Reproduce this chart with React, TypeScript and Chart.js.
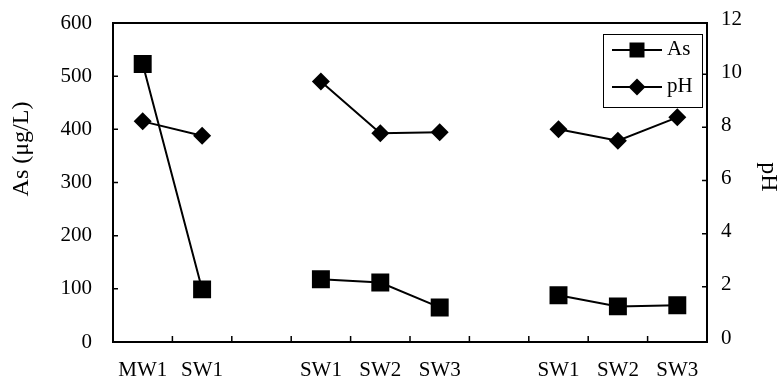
import React, { useEffect, useRef } from 'react';
import { Chart, registerables } from 'chart.js';

Chart.register(...registerables);

const categories = ['MW1', 'SW1', '', 'SW1', 'SW2', 'SW3', '', 'SW1', 'SW2', 'SW3'];
const asValues: (number | null)[] = [523, 99, null, 118, 112, 65, null, 88, 67, 69];
const phValues: (number | null)[] = [8.3, 7.76, null, 9.8, 7.85, 7.89, null, 8.0, 7.57, 8.45];
const asTicks = [0, 100, 200, 300, 400, 500, 600];
const phTicks = [0, 2, 4, 6, 8, 10, 12];
const leftTitle = 'As (μg/L)';
const rightTitle = 'pH';
const legendLabels = ['As', 'pH'];

const FONT = '"Liberation Serif", "Times New Roman", serif';

const decorPlugin = {
  id: 'decor',
  beforeDatasetsDraw(chart: any) {
    const { ctx, chartArea } = chart;
    const { left, right, top, bottom } = chartArea;
    const x = chart.scales.x;
    const y = chart.scales.y;
    const y1 = chart.scales.y1;
    ctx.save();
    ctx.strokeStyle = '#000';
    ctx.lineWidth = 2;
    ctx.strokeRect(left, top, right - left, bottom - top);
    ctx.lineWidth = 1.5;
    ctx.beginPath();
    for (let i = 1; i < categories.length; i++) {
      const px = (x.getPixelForValue(i - 1) + x.getPixelForValue(i)) / 2;
      ctx.moveTo(px, bottom);
      ctx.lineTo(px, bottom - 6);
    }
    asTicks.slice(1, -1).forEach((v) => {
      const py = y.getPixelForValue(v);
      ctx.moveTo(left, py);
      ctx.lineTo(left + 5, py);
    });
    phTicks.slice(1, -1).forEach((v) => {
      const py = y1.getPixelForValue(v) - 2;
      ctx.moveTo(right, py);
      ctx.lineTo(right - 5, py);
    });
    ctx.stroke();
    ctx.restore();
  },
  afterDraw(chart: any) {
    const { ctx } = chart;
    ctx.save();
    ctx.fillStyle = '#000';
    ctx.strokeStyle = '#000';
    // axis titles
    ctx.font = `24px ${FONT}`;
    ctx.textAlign = 'center';
    ctx.textBaseline = 'middle';
    ctx.save();
    ctx.translate(22, 149);
    ctx.rotate(-Math.PI / 2);
    ctx.fillText(leftTitle, 0, 0);
    ctx.restore();
    ctx.save();
    ctx.translate(768, 177);
    ctx.rotate(Math.PI / 2);
    ctx.font = `24px ${FONT}`;
    ctx.fillText(rightTitle, 0, 0);
    ctx.restore();
    // legend
    const bx = 603.5, by = 34.5, bw = 99, bh = 73;
    ctx.fillStyle = '#fff';
    ctx.fillRect(bx, by, bw, bh);
    ctx.fillStyle = '#000';
    ctx.lineWidth = 1;
    ctx.strokeRect(bx, by, bw, bh);
    const rows = [50, 87];
    ctx.lineWidth = 1.8;
    rows.forEach((ry, i) => {
      ctx.beginPath();
      ctx.moveTo(612, ry);
      ctx.lineTo(662, ry);
      ctx.stroke();
      ctx.beginPath();
      if (i === 0) {
        ctx.rect(637 - 7.5, ry - 7.5, 15, 15);
      } else {
        ctx.moveTo(637 - 8.5, ry);
        ctx.lineTo(637, ry - 8.5);
        ctx.lineTo(637 + 8.5, ry);
        ctx.lineTo(637, ry + 8.5);
        ctx.closePath();
      }
      ctx.fill();
      ctx.font = `21px ${FONT}`;
      ctx.textAlign = 'left';
      ctx.textBaseline = 'middle';
      ctx.fillText(legendLabels[i], 667, ry - 1);
    });
    ctx.restore();
  },
};

export default function App() {
  const ref = useRef<HTMLCanvasElement | null>(null);
  useEffect(() => {
    if (!ref.current) return;
    const chart = new Chart(ref.current, {
      type: 'line',
      data: {
        labels: categories,
        datasets: [
          {
            label: legendLabels[0],
            data: asValues,
            yAxisID: 'y',
            borderColor: '#000',
            backgroundColor: '#000',
            borderWidth: 2,
            pointStyle: 'rect',
            pointRadius: 12.7,
            pointHoverRadius: 12.7,
            pointBorderWidth: 0,
            spanGaps: false,
            tension: 0,
          },
          {
            label: legendLabels[1],
            data: phValues,
            yAxisID: 'y1',
            borderColor: '#000',
            backgroundColor: '#000',
            borderWidth: 2,
            pointStyle: 'rectRot',
            pointRadius: 9,
            pointHoverRadius: 9,
            pointBorderWidth: 0,
            spanGaps: false,
            tension: 0,
          },
        ],
      },
      plugins: [decorPlugin],
      options: {
        responsive: false,
        animation: false,
        events: [],
        layout: { padding: { top: 23, left: 0, right: 0, bottom: 0 } },
        plugins: {
          legend: { display: false },
          tooltip: { enabled: false },
          title: { display: false },
        },
        scales: {
          x: {
            type: 'category',
            offset: true,
            grid: { display: false, drawTicks: false },
            border: { display: false },
            ticks: {
              color: '#000',
              font: { family: FONT, size: 21 },
              padding: 16,
              maxRotation: 0,
              autoSkip: false,
            },
            afterFit(scale: any) {
              scale.height = 42;
              scale.paddingLeft = 0;
              scale.paddingRight = 0;
            },
          },
          y: {
            position: 'left',
            min: 0,
            max: 600,
            grid: { display: false, drawTicks: false },
            border: { display: false },
            ticks: {
              color: '#000',
              font: { family: FONT, size: 21 },
              stepSize: 100,
              padding: 21,
            },
            afterBuildTicks(scale: any) {
              scale.ticks = asTicks.map((v) => ({ value: v }));
            },
            afterFit(scale: any) {
              scale.width = 113;
              scale.paddingTop = 0;
              scale.paddingBottom = 0;
            },
          },
          y1: {
            position: 'right',
            min: 0,
            max: 12,
            grid: { display: false, drawTicks: false },
            border: { display: false },
            ticks: {
              color: '#000',
              font: { family: FONT, size: 21 },
              stepSize: 2,
              padding: 14,
              labelOffset: -4,
            },
            afterBuildTicks(scale: any) {
              scale.ticks = phTicks.map((v) => ({ value: v }));
            },
            afterFit(scale: any) {
              scale.width = 75;
              scale.paddingTop = 0;
              scale.paddingBottom = 0;
            },
          },
        },
      },
    } as any);
    return () => chart.destroy();
  }, []);
  return (
    <div style={{ position: 'absolute', left: 0, top: 0, width: 782, height: 384, background: '#fff' }}>
      <canvas ref={ref} width={782} height={384} style={{ width: 782, height: 384, display: 'block' }} />
    </div>
  );
}
